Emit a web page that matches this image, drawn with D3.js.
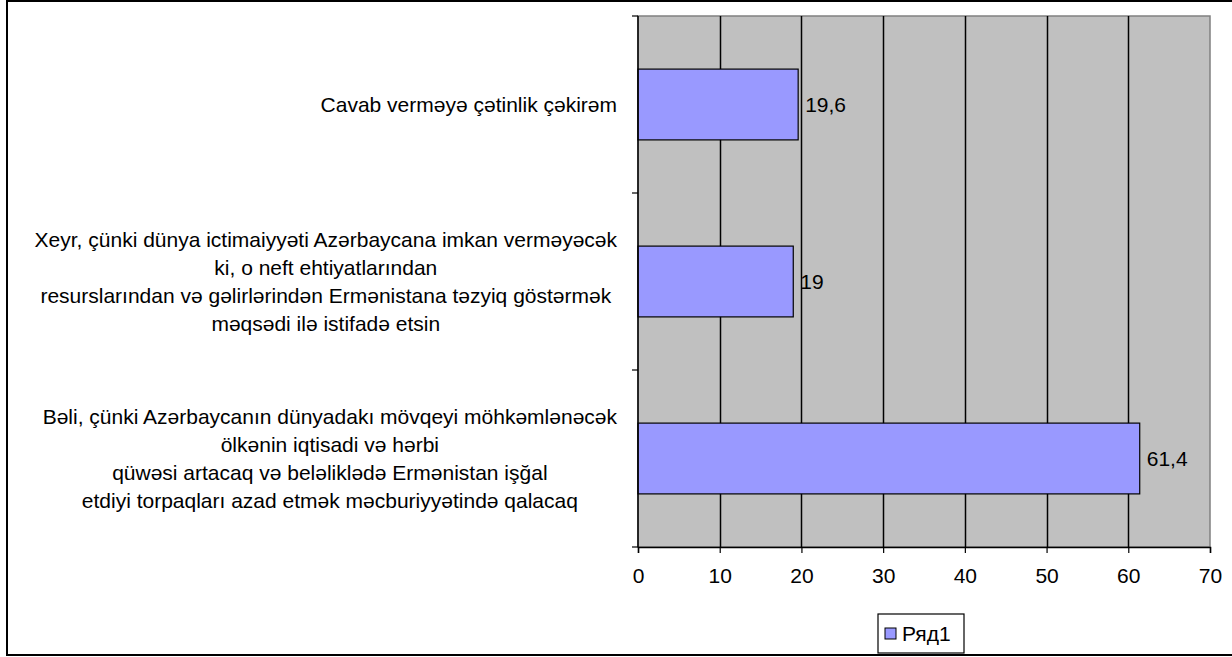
<!DOCTYPE html>
<html lang="az">
<head>
<meta charset="UTF-8">
<title>Bar chart</title>
<script src="https://cdn.jsdelivr.net/npm/d3@7"></script>
<style>
html,body {margin:0;padding:0;background:#fff;}
svg {display:block;font-family:"Liberation Sans",Arial,sans-serif;}
</style>
</head>
<body>
<div id="chart"></div>
<script>
// categories, top to bottom
const categories = [
	["Cavab verməyə çətinlik çəkirəm"],
	["Xeyr, çünki dünya ictimaiyyəti Azərbaycana imkan verməyəcək", "ki, o neft ehtiyatlarından", "resurslarından və gəlirlərindən Ermənistana təzyiq göstərmək", "məqsədi ilə istifadə etsin"],
	["Bəli, çünki Azərbaycanın dünyadakı mövqeyi möhkəmlənəcək", "ölkənin iqtisadi və hərbi", "qüwəsi artacaq və beləliklədə Ermənistan işğal", "etdiyi torpaqları azad etmək məcburiyyətində qalacaq"]
];
const values = [19.6, 19, 61.4];
const valueLabels = ["19,6", "19", "61,4"];
const xTicks = [0, 10, 20, 30, 40, 50, 60, 70];
const seriesName = "Ряд1";

const W = 1232, H = 657;
const plot = {left: 638, top: 16, right: 1210, bottom: 547};
const fs = 21;

const svg = d3.select('#chart').append('svg')
	.attr('width', W)
	.attr('height', H);

// outer frame
svg.append('rect')
	.attr('x', 7).attr('y', 1)
	.attr('width', 1240).attr('height', 654)
	.attr('fill', '#fff')
	.attr('stroke', '#000')
	.attr('stroke-width', 2);

const x = d3.scaleLinear().domain([0, 70]).range([plot.left, plot.right]);
const y = d3.scaleBand().domain(d3.range(categories.length)).range([plot.top, plot.bottom]).paddingInner(0.6).paddingOuter(0.3);

// plot background
svg.append('rect')
	.attr('x', plot.left).attr('y', plot.top)
	.attr('width', plot.right - plot.left).attr('height', plot.bottom - plot.top)
	.attr('fill', '#c0c0c0')
	.attr('stroke', '#808080')
	.attr('stroke-width', 1.5);

// gridlines
svg.append('g').selectAll('line')
	.data(xTicks.filter(d => d > 0 && d < 70))
	.join('line')
	.attr('x1', d => Math.round(x(d)) + 0.5).attr('x2', d => Math.round(x(d)) + 0.5)
	.attr('y1', plot.top).attr('y2', plot.bottom)
	.attr('stroke', '#000')
	.attr('stroke-width', 1.5);

// bars
svg.append('g').selectAll('rect')
	.data(values)
	.join('rect')
	.attr('x', x(0))
	.attr('y', (d, i) => y(i))
	.attr('width', d => x(d) - x(0))
	.attr('height', y.bandwidth())
	.attr('fill', '#9999ff')
	.attr('stroke', '#000')
	.attr('stroke-width', 1.2);

// value labels
svg.append('g').selectAll('text')
	.data(values)
	.join('text')
	.attr('x', d => x(d) + 7)
	.attr('y', (d, i) => y(i) + y.bandwidth() / 2)
	.attr('dy', '0.35em')
	.attr('font-size', fs)
	.attr('fill', '#000')
	.text((d, i) => valueLabels[i]);

// x axis
const xAxis = d3.axisBottom(x).tickValues(xTicks).tickSize(6).tickPadding(15).tickFormat(d3.format('d'));
const gX = svg.append('g')
	.attr('transform', `translate(0,${plot.bottom})`)
	.call(xAxis);
gX.select('.domain').attr('stroke', '#000').attr('stroke-width', 1.5);
gX.selectAll('.tick line').attr('stroke', '#000').attr('stroke-width', 1.2);
gX.selectAll('.tick text').attr('font-size', fs).attr('font-family', '"Liberation Sans",Arial,sans-serif').attr('fill', '#000');

// y axis line and ticks at band boundaries
const yBounds = d3.range(categories.length + 1).map(i => plot.top + i * y.step());
svg.append('line')
	.attr('x1', plot.left).attr('x2', plot.left)
	.attr('y1', plot.top).attr('y2', plot.bottom)
	.attr('stroke', '#000').attr('stroke-width', 1.5);
svg.append('g').selectAll('line')
	.data(yBounds)
	.join('line')
	.attr('x1', plot.left - 6).attr('x2', plot.left)
	.attr('y1', d => d).attr('y2', d => d)
	.attr('stroke', '#000').attr('stroke-width', 1.2);

// category labels: block right-aligned to 617, lines centred in block
const labelRight = 617, lineH = 28;
const gLab = svg.append('g').attr('font-size', fs).attr('fill', '#000');
categories.forEach((lines, i) => {
	const g = gLab.append('g');
	const t = g.selectAll('text').data(lines).join('text').text(d => d);
	const maxW = d3.max(t.nodes(), n => n.getComputedTextLength());
	const cy = y(i) + y.bandwidth() / 2;
	t.attr('x', labelRight - maxW / 2)
		.attr('text-anchor', 'middle')
		.attr('y', (d, j) => cy + (j - (lines.length - 1) / 2) * lineH)
		.attr('dy', '0.35em');
});

// legend
const lg = svg.append('g').attr('transform', 'translate(878,614)');
lg.append('rect').attr('width', 86).attr('height', 39)
	.attr('fill', '#fff').attr('stroke', '#000').attr('stroke-width', 1.2);
lg.append('rect').attr('x', 7).attr('y', 14).attr('width', 11).attr('height', 11)
	.attr('fill', '#9999ff').attr('stroke', '#000').attr('stroke-width', 1);
lg.append('text').attr('x', 24).attr('y', 19.5).attr('dy', '0.35em')
	.attr('font-size', fs).attr('fill', '#000').text(seriesName);
</script>
</body>
</html>
